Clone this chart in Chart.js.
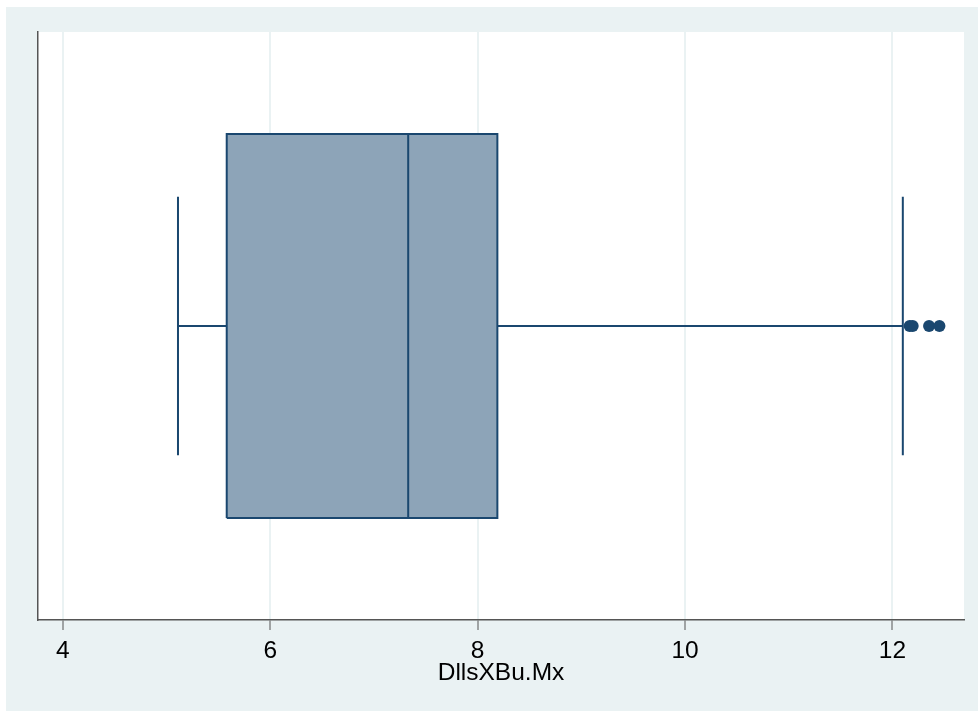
<!DOCTYPE html>
<html>
<head>
<meta charset="utf-8">
<title>DllsXBu.Mx</title>
<script src="https://cdn.jsdelivr.net/npm/chart.js@4/dist/chart.umd.min.js"></script>
<style>
  html, body { margin: 0; padding: 0; background: #eaf2f3; overflow: hidden; height: 100%; }
  #edgeTop { position: fixed; left: 0; top: 0; width: 100%; height: 7px; background: #ffffff; }
  #edgeLeft { position: fixed; left: 0; top: 0; width: 6px; height: 100%; background: #ffffff; }
  #wrap { position: absolute; left: 6px; top: 7px; width: 972px; height: 704px; }
  #chart { display: block; }
</style>
</head>
<body>
<div id="edgeTop"></div>
<div id="edgeLeft"></div>
<div id="wrap"><canvas id="chart" width="972" height="704"></canvas></div>
<script>
// Box-plot summary of DllsXBu.Mx
const quartiles = [5.58, 7.33, 8.19];          // Q1, median, Q3
const whiskers = [5.11, 12.10];                 // lower / upper adjacent values
const outliers = [12.166, 12.195, 12.353, 12.453];
const xTicks = [4, 6, 8, 10, 12];
const axisTitle = 'DllsXBu.Mx';

// vertical layout of the box inside a 0..1 band
const MID = 0.5, BOX_HALF = 0.3265, CAP_HALF = 0.22;

const NAVY = '#1a476f';
const FILL = '#8da4b8';
const PANEL = '#eaf2f3';
const AXIS = '#555555';
const FONT = { family: '"Liberation Sans", Arial, sans-serif', size: 24.5 };

const [q1, med, q3] = quartiles;
const [wLo, wHi] = whiskers;

const line = (pts) => ({
  type: 'scatter', data: pts, showLine: true, borderColor: NAVY,
  borderWidth: 2, pointRadius: 0, fill: false, tension: 0
});

const datasets = [
  { type: 'scatter', data: outliers.map(v => ({ x: v, y: MID })),
    pointRadius: 6, pointBackgroundColor: NAVY, pointBorderColor: NAVY, pointBorderWidth: 0 },
  line([{ x: med, y: MID - BOX_HALF }, { x: med, y: MID + BOX_HALF }]),
  line([{ x: q1, y: MID - BOX_HALF }, { x: q1, y: MID + BOX_HALF },
        { x: q3, y: MID + BOX_HALF }, { x: q3, y: MID - BOX_HALF },
        { x: q1, y: MID - BOX_HALF }]),
  line([{ x: wLo, y: MID }, { x: q1, y: MID }]),
  line([{ x: q3, y: MID }, { x: wHi, y: MID }]),
  line([{ x: wLo, y: MID - CAP_HALF }, { x: wLo, y: MID + CAP_HALF }]),
  line([{ x: wHi, y: MID - CAP_HALF }, { x: wHi, y: MID + CAP_HALF }]),
  { type: 'scatter', data: [{ x: q1, y: MID + BOX_HALF }, { x: q3, y: MID + BOX_HALF }],
    showLine: true, borderWidth: 0, borderColor: 'rgba(0,0,0,0)', pointRadius: 0,
    backgroundColor: FILL, fill: { value: MID - BOX_HALF } }
];

const panelBackground = {
  id: 'panelBackground',
  beforeDraw(chart) {
    const { ctx, chartArea: a } = chart;
    ctx.save();
    ctx.fillStyle = PANEL;
    ctx.fillRect(0, 0, chart.width, chart.height);
    ctx.fillStyle = '#ffffff';
    ctx.fillRect(a.left, a.top, a.right - a.left, a.bottom - a.top);
    ctx.restore();
  }
};

new Chart(document.getElementById('chart'), {
  type: 'scatter',
  data: { datasets },
  plugins: [panelBackground],
  options: {
    responsive: false,
    animation: false,
    layout: { padding: { left: 32, top: 25, right: 14, bottom: 0 } },
    plugins: { legend: { display: false }, tooltip: { enabled: false } },
    scales: {
      x: {
        type: 'linear', min: 3.76, max: 12.69,
        afterBuildTicks: (s) => { s.ticks = xTicks.map(v => ({ value: v })); },
        afterFit: (s) => { s.height = 91; },
        grid: { color: PANEL, lineWidth: 2, drawTicks: true, tickLength: 10,
                tickColor: AXIS, tickWidth: 1 },
        border: { display: true, color: AXIS, width: 1.5 },
        ticks: { color: '#000', font: FONT, padding: 7, maxRotation: 0 },
        title: { display: true, text: axisTitle, color: '#000', font: FONT,
                 padding: { top: 0, bottom: 23.5 } }
      },
      y: {
        type: 'linear', min: 0, max: 1,
        afterFit: (s) => { s.width = 0; },
        grid: { display: false },
        border: { display: true, color: AXIS, width: 1.5 },
        ticks: { display: false }
      }
    }
  }
});
</script>
</body>
</html>
